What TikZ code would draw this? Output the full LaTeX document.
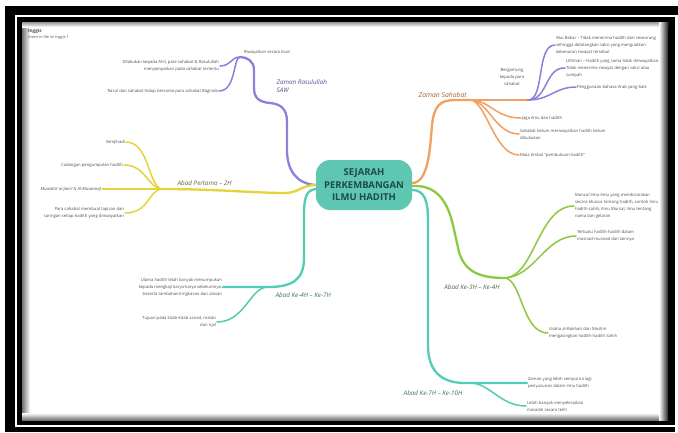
\documentclass[tikz,border=0pt]{standalone}
\usepackage{fontspec}
\setmainfont{Open Sans}
\pgfdeclarelayer{frame}
\pgfdeclarelayer{bg}
\pgfsetlayers{frame,bg,main}
\definecolor{ctrfill}{HTML}{5EC6B1}
\definecolor{ctrtext}{HTML}{1E4B47}
\definecolor{cpurple}{HTML}{8C80D9}
\definecolor{cyellow}{HTML}{E8D23C}
\definecolor{cteal}{HTML}{52CCB2}
\definecolor{corange}{HTML}{F1A062}
\definecolor{cgreen}{HTML}{8CC841}
\definecolor{txt}{HTML}{505050}
\definecolor{lpurple}{HTML}{5A5090}
\definecolor{lyellow}{HTML}{6E6530}
\definecolor{lteal}{HTML}{3F6E68}
\definecolor{lorange}{HTML}{A8602E}
\definecolor{lgreen}{HTML}{55624A}
\tikzset{
  mainbr/.style={line width=2.3pt, line cap=round},
  subbr/.style={line width=1.5pt, line cap=round},
  leaf/.style={font=\fontsize{4.2}{7}\selectfont, text=txt, inner sep=0.8pt, align=left},
  leafr/.style={leaf, align=right},
  lab/.style={font=\fontsize{6.3}{8}\selectfont\itshape, inner sep=0.5pt, align=left},
}
\begin{document}
\begin{tikzpicture}[x=1pt,y=-1pt]
\useasboundingbox (0,0) rectangle (678,432);
\begin{pgfonlayer}{frame}
\fill[white] (0,0) rectangle (678,432);
\fill[black] (5,6) rectangle (678,15);
\fill[black] (5,6) rectangle (675,432);
\fill[white] (15,15) rectangle (675,427);
\fill[black] (17,17) rectangle (675,425);
\fill[white] (22,22) rectangle (668,420);
\shade[left color=black!55, right color=white] (22,22) rectangle (30,420);
\shade[top color=black!40, bottom color=white] (22,22) rectangle (668,27);
\shade[left color=white, right color=black!85] (659,22) rectangle (668,420);
\shade[top color=white, bottom color=black!55] (22,413) rectangle (659,420);
\end{pgfonlayer}

% title
\node[anchor=west, font=\fontsize{4.6}{5}\selectfont\bfseries, text=txt, inner sep=0] (ttl) at (28,31) {Inggis};
\node[anchor=west, font=\fontsize{3.8}{5}\selectfont, text=txt, inner sep=0] (sub) at (28,37) {Insert in file ini Inggis 1};

% centre
\node[fill=ctrfill, rounded corners=14pt, minimum width=96pt, minimum height=50pt, font=\fontsize{9.5}{12.5}\selectfont\bfseries, text=ctrtext, align=center, inner sep=1pt] (c) at (364,185) {SEJARAH\\PERKEMBANGAN\\ILMU HADITH};

% hubs
\coordinate (ph) at (240,57);
\coordinate (yh) at (163,189);
\coordinate (tlh) at (268,287);
\coordinate (oh) at (470,100);
\coordinate (ph2) at (528,100);
\coordinate (gh) at (505,278);
\coordinate (trh) at (470,383);

% ---------- purple: Zaman Rasulullah SAW
\node[lab, text=lpurple, anchor=north west] (lp) at (276,79) {Zaman Rasulullah\\SAW};
\node[leaf, anchor=west] (p0) at (243,52) {Riwayatkan secara lisan};
\node[leafr, anchor=east] (p1) at (220,66) {Dilakukan kepada Ahli, para sahabat \& Rasulullah\\menyampaikan pada sahabat tertentu};
\node[leafr, anchor=east] (p2) at (219,91) {Rasul dan sahabat hidup bersama para sahabat Baginda};
\begin{pgfonlayer}{bg}
\draw[mainbr, cpurple] (c.center) -- (c.west) .. controls (298,184) and (287,172) .. (287,150) -- (287,122)
   .. controls (287,108) and (280,104) .. (270,103) .. controls (259,102) and (254,98) .. (254,88) -- (254,70)
   .. controls (254,61) and (247,57) .. (ph);
\draw[subbr, cpurple] (ph) .. controls (231,57) and (231,66) .. (p1.east);
\draw[subbr, cpurple] (ph) .. controls (233,58) and (236,91) .. (p2.east);
\end{pgfonlayer}

% ---------- yellow: Abad Pertama - 2H
\node[lab, text=lyellow, anchor=west] (ly) at (177,183) {Abad Pertama – 2H};
\node[leafr, anchor=east] (y1) at (126,142) {Semjihadi};
\node[leafr, anchor=east] (y2) at (124,165) {Cadangan pengumpulan hadith};
\node[leafr, anchor=east, font=\fontsize{4.2}{7}\selectfont\itshape] (y3) at (102,189) {Muwatta' al-Jami' \& Al-Musannaf};
\node[leafr, anchor=east] (y4) at (125,213) {Para sahabat membuat lapisan dan\\saringan setiap hadith yang diriwayatkan};
\begin{pgfonlayer}{bg}
\draw[mainbr, cyellow] (c.center) -- (c.west) .. controls (302,185) and (298,193) .. (285,193)
   .. controls (255,193) and (215,189) .. (yh);
\draw[subbr, cyellow] (yh) .. controls (148,189) and (150,142) .. (y1.east);
\draw[subbr, cyellow] (yh) .. controls (148,189) and (146,165) .. (y2.east);
\draw[subbr, cyellow] (yh) -- (y3.east);
\draw[subbr, cyellow] (yh) .. controls (148,189) and (150,213) .. (y4.east);
\end{pgfonlayer}

% ---------- teal left: Abad Ke-4H - Ke-7H
\node[lab, text=lteal, anchor=west] (ltl) at (275,295) {Abad Ke-4H – Ke-7H};
\node[leafr, anchor=east] (tl1) at (223,287) {Ulama hadith telah banyak menumpukan\\kepada mengkaji karya-karya sebelumnya,\\beserta tambahan/ringkasan dan ulasan};
\node[leafr, anchor=east] (tl2) at (217,322) {Tujuan pada kitab-kitab sanad, matan\\dan rijal};
\begin{pgfonlayer}{bg}
\draw[mainbr, cteal] (c.center) -- ([yshift=-4pt]c.west) .. controls (306,190) and (304,198) .. (304,215) -- (304,258)
   .. controls (304,280) and (292,287) .. (tlh) -- (tl1.east);
\draw[subbr, cteal] (tlh) .. controls (250,287) and (245,322) .. (tl2.east);
\end{pgfonlayer}

% ---------- orange: Zaman Sahabat
\node[lab, text=lorange, anchor=west, font=\fontsize{6.8}{8}\selectfont\itshape] (lo) at (418,95) {Zaman Sahabat};
\node[leaf, align=center] (o1) at (512,77) {Bergantung\\kepada para\\sahabat};
\node[leaf, anchor=west] (o2) at (521,118) {Jaga ilmu dan hadith};
\node[leaf, anchor=west] (o3) at (519,134) {Sahabat belum meriwayatkan hadith belum\\dibukukan};
\node[leaf, anchor=west] (o4) at (519,155) {Mula timbul ``pembukuan hadith''};
\coordinate (o1e) at (ph2);
\begin{pgfonlayer}{bg}
\draw[mainbr, corange] (c.center) -- ([yshift=2pt]c.east) .. controls (428,183) and (430,150) .. (432,125)
   .. controls (434,106) and (440,100) .. (455,100) -- (oh);
\draw[subbr, corange] (oh) -- (o1e);
\draw[subbr, corange] (oh) .. controls (490,100) and (495,118) .. (o2.west);
\draw[subbr, corange] (oh) .. controls (488,100) and (495,134) .. (o3.west);
\draw[subbr, corange] (oh) .. controls (486,100) and (494,155) .. (o4.west);
\end{pgfonlayer}

% purple under Zaman Sahabat
\node[leaf, anchor=west] (q1) at (555,45) {Abu Bakar – Tidak menerima hadith dari seseorang\\sehingga didatangkan saksi yang menguatkan\\kebenaran riwayat tersebut};
\node[leaf, anchor=west] (q2) at (565,68) {Uthman – Hadith yang sama tidak diriwayatkan.\\Tidak menerima riwayat dengan saksi atau\\sumpah};
\node[leaf, anchor=west] (q3) at (576,87) {Penggunaan bahasa Arab yang baik};
\begin{pgfonlayer}{bg}
\draw[subbr, cpurple] (ph2) .. controls (545,100) and (536,45) .. (q1.west);
\draw[subbr, cpurple] (ph2) .. controls (548,100) and (545,67) .. (q2.west);
\draw[subbr, cpurple] (ph2) .. controls (550,100) and (555,87) .. (q3.west);
\end{pgfonlayer}

% ---------- green: Abad Ke-3H - Ke-4H
\node[lab, text=lgreen, anchor=center] (lg) at (472,287) {Abad Ke-3H – Ke-4H};
\node[leaf, anchor=west] (g1) at (574,206) {Muncul ilmu-ilmu yang membicarakan\\secara khusus tentang hadith, contoh ilmu\\hadith sahih, ilmu Mursal, ilmu tentang\\nama dan gelaran};
\node[leaf, anchor=west] (g2) at (576,236) {Terbuku hadith-hadith dalam\\musnad-musnad dan lainnya};
\node[leaf, anchor=west] (g3) at (548,333) {Usaha al-Bukhari dan Muslim\\mengasingkan hadith-hadith Sahih};
\begin{pgfonlayer}{bg}
\draw[mainbr, cgreen] (c.center) -- ([yshift=-1pt]c.east) .. controls (432,185) and (446,195) .. (453,225) -- (459,252)
   .. controls (465,272) and (480,278) .. (gh);
\draw[subbr, cgreen] (gh) .. controls (535,276) and (538,206) .. (g1.west);
\draw[subbr, cgreen] (gh) .. controls (535,276) and (545,236) .. (g2.west);
\draw[subbr, cgreen] (gh) .. controls (522,280) and (522,333) .. (g3.west);
\end{pgfonlayer}

% ---------- teal right: Abad Ke-7H - Ke-10H
\node[lab, text=lteal, anchor=center] (ltr) at (433,393) {Abad Ke-7H – Ke-10H};
\node[leaf, anchor=west] (tr1) at (527,383) {Zaman yang lebih sempurna lagi\\penyusunan dalam ilmu hadith};
\node[leaf, anchor=west] (tr2) at (526,406) {Lebih banyak menyelesaikan\\masalah secara teliti};
\begin{pgfonlayer}{bg}
\draw[mainbr, cteal] (c.center) -- ([yshift=-5pt]c.east) .. controls (424,190) and (428,200) .. (428,220) -- (428,345)
   .. controls (428,370) and (440,383) .. (465,383) -- (tr1.west);
\draw[subbr, cteal] (trh) .. controls (490,383) and (500,406) .. (tr2.west);
\end{pgfonlayer}
\end{tikzpicture}
\end{document}
